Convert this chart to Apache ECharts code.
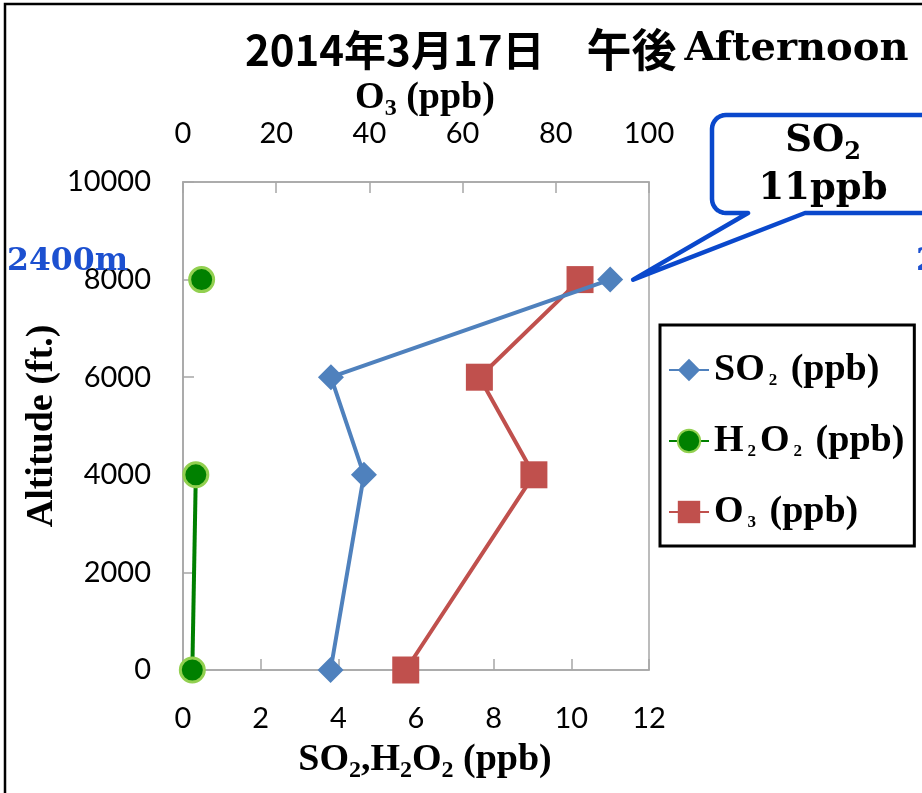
<!DOCTYPE html>
<html>
<head>
<meta charset="utf-8">
<script src="https://cdn.jsdelivr.net/npm/echarts@6/dist/echarts.min.js"></script>
<style>
  html, body { margin: 0; padding: 0; background: #fff; }
  #chart { width: 922px; height: 793px; }
</style>
</head>
<body>
<div id="chart"></div>
<script>
// Flight profile, 17 March 2014 (afternoon)
const altitudes = [0, 4000, 6000, 8000];          // ft
const so2Values = [3.8, 4.66, 3.81, 11];           // ppb, bottom axis
const h2o2Values = [0.24, 0.33, null, 0.48];       // ppb, bottom axis (no sample at 6000 ft)
const o3Values = [47.8, 75.3, 63.6, 85.2];         // ppb, top axis

const seriesNames = ['SO2 (ppb)', 'H2O2 (ppb)', 'O3 (ppb)'];
const bottomAxisRange = [0, 12, 2];
const topAxisRange = [0, 100, 20];
const altitudeRange = [0, 10000, 2000];

const titleDate = '2014年3月17日　';
const titleJa = '午後';
const titleEn = 'Afternoon';
const calloutLines = ['SO2', '11ppb'];
const altitudeNote = '2400m';

const BLUE = '#4f81bd', GREEN = '#008000', RED = '#c0504d', GRID = '#a6a6a6';
const SERIF = '"Liberation Serif", "Times New Roman", serif';
const CENTURY = '"DejaVu Serif", serif';
const TICK_FONT = 'Lato, "Open Sans", sans-serif';
const GOTHIC = '"Noto Sans CJK JP", sans-serif';

function pairs(values) {
  return values.map((v, i) => [v === null ? '-' : v, altitudes[i]]);
}

const chart = echarts.init(document.getElementById('chart'), null, { renderer: 'canvas' });

const axisCommon = {
  type: 'value',
  axisLine: { show: true, lineStyle: { color: GRID, width: 1.5 } },
  axisTick: { show: true, inside: true, length: 11, lineStyle: { color: GRID, width: 1.5 } },
  splitLine: { show: false },
  axisLabel: { color: '#000', fontFamily: TICK_FONT, fontSize: 29, formatter: v => String(v) }
};

// rich-text pieces with lowered subscripts
const subRich = {
  m: { fontFamily: SERIF, fontWeight: 'bold', fontSize: 38, lineHeight: 46, color: '#000' },
  s: { fontFamily: SERIF, fontWeight: 'bold', fontSize: 24, lineHeight: 24, verticalAlign: 'bottom', color: '#000' }
};
const legendRich = {
  m: { fontFamily: SERIF, fontWeight: 'bold', fontSize: 38, lineHeight: 38, color: '#000' },
  s: { fontFamily: SERIF, fontWeight: 'bold', fontSize: 17, lineHeight: 30, verticalAlign: 'bottom', padding: [0, 4, 0, 4], color: '#000' }
};
const legendLabels = {
  'SO2 (ppb)': '{m|SO}{s|2}{m| (ppb)}',
  'H2O2 (ppb)': '{m|H}{s|2}{m|O}{s|2}{m| (ppb)}',
  'O3 (ppb)': '{m|O}{s|3}{m| (ppb)}'
};

const option = {
  animation: false,
  backgroundColor: '#fff',
  title: {
    text: '{j|' + titleDate + '}{k|' + titleJa + '}{e|' + titleEn + '}',
    left: 240, top: 20,
    textStyle: {
      rich: {
        j: { fontFamily: GOTHIC, fontWeight: 'bold', fontSize: 42, lineHeight: 50, color: '#000' },
        k: { fontFamily: GOTHIC, fontWeight: 'bold', fontSize: 45, lineHeight: 50, color: '#000' },
        e: { fontFamily: CENTURY, fontWeight: 'bold', fontSize: 40, lineHeight: 50, padding: [0, 0, 0, 8], color: '#000' }
      }
    }
  },
  grid: {
    left: 183, top: 182, right: 273, bottom: 123,
    show: true, borderColor: GRID, borderWidth: 1.5, backgroundColor: 'transparent'
  },
  legend: {
    orient: 'vertical', left: 660, top: 325,
    padding: [26, 10, 15, 8], itemGap: 33, itemWidth: 40, itemHeight: 28,
    borderColor: '#000', borderWidth: 3, backgroundColor: '#fff',
    data: seriesNames,
    formatter: name => legendLabels[name],
    textStyle: { rich: legendRich }
  },
  xAxis: [
    Object.assign({}, axisCommon, {
      position: 'bottom', min: bottomAxisRange[0], max: bottomAxisRange[1], interval: bottomAxisRange[2],
      axisLabel: Object.assign({}, axisCommon.axisLabel, { margin: 34 })
    }),
    Object.assign({}, axisCommon, {
      position: 'top', min: topAxisRange[0], max: topAxisRange[1], interval: topAxisRange[2],
      axisLabel: Object.assign({}, axisCommon.axisLabel, { margin: 34 })
    })
  ],
  yAxis: [
    Object.assign({}, axisCommon, {
      min: altitudeRange[0], max: altitudeRange[1], interval: altitudeRange[2],
      axisLabel: Object.assign({}, axisCommon.axisLabel, { margin: 32 })
    })
  ],
  series: [
    {
      name: seriesNames[0], type: 'line', xAxisIndex: 0, yAxisIndex: 0,
      data: pairs(so2Values), symbol: 'diamond', symbolSize: 26,
      lineStyle: { color: BLUE, width: 4 }, itemStyle: { color: BLUE }, z: 3
    },
    {
      name: seriesNames[1], type: 'line', xAxisIndex: 0, yAxisIndex: 0,
      data: pairs(h2o2Values), symbol: 'circle', symbolSize: 24, connectNulls: false,
      lineStyle: { color: GREEN, width: 4 },
      itemStyle: { color: GREEN, borderColor: '#92d050', borderWidth: 3 }, z: 4
    },
    {
      name: seriesNames[2], type: 'line', xAxisIndex: 1, yAxisIndex: 0,
      data: pairs(o3Values), symbol: 'rect', symbolSize: 27,
      lineStyle: { color: RED, width: 4 }, itemStyle: { color: RED }, z: 2
    }
  ]
};

chart.setOption(option);

// speech-bubble outline; its pointer attaches next to the 8000 ft SO2 marker
const tip = chart.convertToPixel({ xAxisIndex: 0, yAxisIndex: 0 }, [so2Values[3], altitudes[3]]);
const tipX = tip[0] + 23, tipY = tip[1];
const bx0 = 712, by0 = 115, bx1 = 960, by1 = 213, r = 14;
function arcPoints(cx, cy, a0, a1, steps) {
  const pts = [];
  for (let i = 0; i <= steps; i++) {
    const a = a0 + (a1 - a0) * i / steps;
    pts.push([cx + r * Math.cos(a), cy + r * Math.sin(a)]);
  }
  return pts;
}
const bubble = [
  [bx1, by0], [bx1, by1], [805, by1], [tipX, tipY], [748, by1]
].concat(
  arcPoints(bx0 + r, by1 - r, Math.PI / 2, Math.PI, 8),
  arcPoints(bx0 + r, by0 + r, Math.PI, Math.PI * 1.5, 8)
);

const calloutRich = {
  m: { fontFamily: CENTURY, fontWeight: 'bold', fontSize: 37, lineHeight: 48, color: '#000' },
  s: { fontFamily: CENTURY, fontWeight: 'bold', fontSize: 24, lineHeight: 24, verticalAlign: 'bottom', color: '#000' }
};

chart.setOption({
  graphic: [
    { type: 'rect', silent: true, z: 0,
      shape: { x: 5, y: 4, width: 1000, height: 1000 },
      style: { fill: 'none', stroke: '#000', lineWidth: 2.5 } },
    { type: 'text', z: 10, x: 425, y: 98,
      style: { text: '{m|O}{s|3}{m| (ppb)}', rich: subRich, align: 'center', verticalAlign: 'middle' } },
    { type: 'text', z: 10, x: 425, y: 760,
      style: { text: '{m|SO}{s|2}{m|,H}{s|2}{m|O}{s|2}{m| (ppb)}', rich: subRich, align: 'center', verticalAlign: 'middle' } },
    { type: 'text', z: 10, x: 42, y: 426, rotation: Math.PI / 2,
      style: { text: 'Altitude (ft.)', font: 'bold 38px ' + SERIF, fill: '#000', align: 'center', verticalAlign: 'middle' } },
    { type: 'text', z: 12, x: 7, y: 262,
      style: { text: altitudeNote, font: 'bold 31.5px ' + CENTURY, fill: '#1c50d0', align: 'left', verticalAlign: 'middle' } },
    { type: 'text', z: 12, x: 916, y: 262,
      style: { text: altitudeNote, font: 'bold 31.5px ' + CENTURY, fill: '#1c50d0', align: 'left', verticalAlign: 'middle' } },
    { type: 'polygon', z: 20, silent: true,
      shape: { points: bubble },
      style: { fill: '#fff', stroke: '#0a48cc', lineWidth: 4.5, lineJoin: 'round' } },
    { type: 'text', z: 21, x: 823, y: 165,
      style: { text: '{m|' + calloutLines[0].slice(0, 2) + '}{s|' + calloutLines[0].slice(2) + '}\n{m|' + calloutLines[1] + '}',
               rich: calloutRich, align: 'center', verticalAlign: 'middle' } }
  ]
});
</script>
</body>
</html>
